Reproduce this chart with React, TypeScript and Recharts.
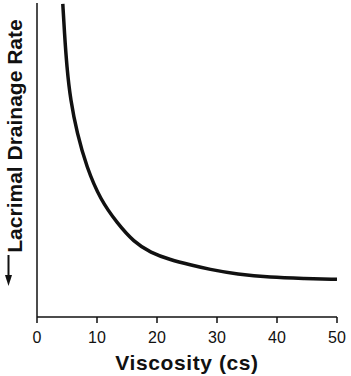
import { Label, Line, LineChart, XAxis, YAxis } from 'recharts'

const viscosity = [4.3, 4.58, 4.97, 5.58, 6.67, 8.25, 10.58, 13.37, 16.13, 18.92, 22.25, 25.58, 28.63, 33.37, 38.92, 44.42, 50]
const drainageRate = [99.7, 90.4, 79.6, 69.1, 58.6, 47.8, 37.3, 29.9, 23.9, 20.5, 18.2, 16.6, 15.2, 13.6, 12.6, 12.3, 12.0]
const xTicks = [0, 10, 20, 30, 40, 50]

const data = viscosity.map((v, i) => ({ viscosity: v, rate: drainageRate[i] }))

const font = '"Liberation Sans", Arial, sans-serif'
const ink = '#111'

function YTitle({ viewBox }: { viewBox?: { x: number; y: number; width: number; height: number } }) {
  if (!viewBox) return null
  const cx = 14
  const cy = viewBox.y + 133
  // down arrow drawn below the rotated text
  const ax = 8.5
  return (
    <g>
      <text
        x={cx}
        y={cy}
        transform={`rotate(-90 ${cx} ${cy})`}
        textAnchor="middle"
        dominantBaseline="central"
        fontFamily={font}
        fontWeight="bold"
        fontSize={21}
        fill={ink}
      >
        Lacrimal Drainage Rate
      </text>
      <line x1={ax} y1={255} x2={ax} y2={276} stroke={ink} strokeWidth={2} />
      <path d={`M${ax - 3.5},275 L${ax + 3.5},275 L${ax},286 Z`} fill={ink} />
    </g>
  )
}

export default function App() {
  return (
    <div style={{ position: 'absolute', left: 0, top: 0, background: '#fff' }}>
      <LineChart width={351} height={376} data={data} margin={{ top: 3, right: 14, bottom: 0, left: 0 }}>
        <XAxis
          dataKey="viscosity"
          type="number"
          domain={[0, 50]}
          ticks={xTicks}
          height={59}
          tickSize={6}
          tickMargin={9}
          stroke={ink}
          strokeWidth={1.5}
          tick={{ fill: ink, fontSize: 16, fontFamily: font }}
        >
          <Label
            value="Viscosity (cs)"
            position="insideBottom"
            offset={6}
            style={{ fontFamily: font, fontWeight: 'bold', fontSize: 21, letterSpacing: 0.6, fill: ink }}
          />
        </XAxis>
        <YAxis
          type="number"
          domain={[0, 100]}
          width={37}
          tick={false}
          tickLine={false}
          stroke={ink}
          strokeWidth={1.5}
          label={<YTitle />}
        />
        <Line
          type="basis"
          dataKey="rate"
          stroke={ink}
          strokeWidth={3.5}
          dot={false}
          isAnimationActive={false}
        />
      </LineChart>
    </div>
  )
}
